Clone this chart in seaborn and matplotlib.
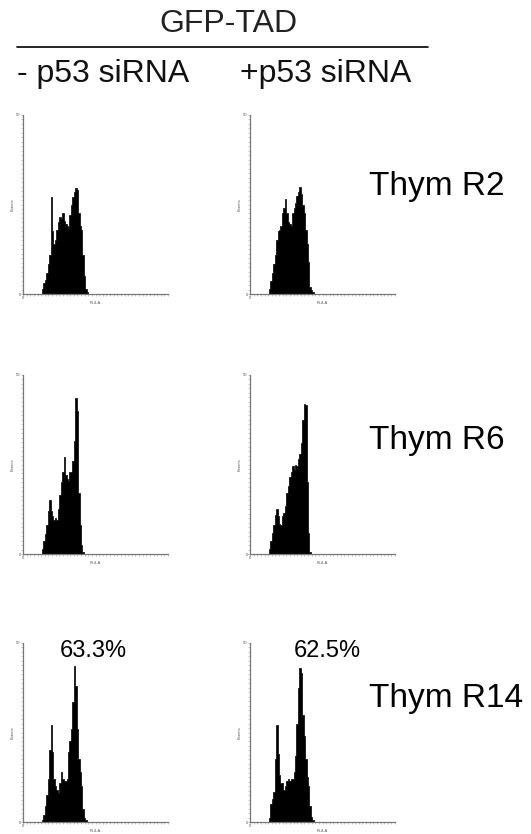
import numpy as np
import pandas as pd
import matplotlib
matplotlib.use("Agg")
import matplotlib.pyplot as plt
import seaborn as sns

sns.set_theme(style="white")
plt.rcParams['font.family'] = ['Liberation Sans', 'DejaVu Sans']

# ---- data: histogram counts (percent of y-axis max) per channel bin, bins 13..44 ----
start_bin = 13
r2_minus = [3, 6, 8, 12, 17, 22, 54, 35, 28, 30, 36, 40, 43, 42, 45, 41, 39, 38, 37,
            44, 50, 54, 57, 59, 58, 45, 38, 36, 22, 10, 3, 1]
r2_plus = [3, 7, 12, 17, 22, 30, 35, 36, 38, 45, 48, 53, 45, 40, 39, 38, 45, 48, 51,
           55, 57, 60, 56, 50, 45, 36, 28, 18, 4, 2, 1]
r6_minus = [3, 7, 11, 16, 24, 30, 24, 21, 19, 20, 19, 25, 33, 40, 46, 54, 44, 42, 41,
            46, 46, 52, 63, 87, 80, 34, 16, 5, 1]
r6_plus = [3, 7, 12, 16, 22, 25, 21, 17, 16, 21, 23, 27, 34, 38, 43, 46, 49, 47, 50,
           49, 53, 56, 62, 75, 84, 83, 40, 12, 1]
r14_minus = [1, 4, 9, 15, 24, 40, 54, 39, 24, 20, 18, 16, 22, 28, 24, 23, 23, 24, 39,
             45, 52, 67, 87, 76, 52, 35, 28, 20, 7, 2, 1]
r14_plus = [2, 10, 13, 17, 35, 54, 38, 26, 22, 22, 18, 20, 23, 24, 23, 24, 24, 28, 37,
            55, 75, 86, 83, 60, 48, 35, 25, 20, 9, 3, 1]

rows = ["Thym R2", "Thym R6", "Thym R14"]
cols = ["- p53 siRNA", "+p53 siRNA"]
header = "GFP-TAD"
percent_labels = {(2, 0): "63.3%", (2, 1): "62.5%"}
series = [[r2_minus, r2_plus], [r6_minus, r6_plus], [r14_minus, r14_plus]]

W, H = 531, 834
fig = plt.figure(figsize=(W / 100, H / 100), dpi=100)

col_x = [23, 250]
ax_w = 145
row_top = [115, 375, 643]
ax_h = 179

def px(x, y):
    return x / W, 1 - y / H

for r in range(3):
    for c in range(2):
        left = col_x[c] / W
        bottom = 1 - (row_top[r] + ax_h) / H
        ax = fig.add_axes([left, bottom, ax_w / W, ax_h / H])
        counts = series[r][c]
        centers = np.arange(start_bin, start_bin + len(counts)) + 0.5
        df = pd.DataFrame({"channel": centers, "n": counts})
        sns.histplot(data=df, x="channel", weights="n", binwidth=1,
                     binrange=(0, 100), element="step", fill=True,
                     color="black", edgecolor="black", alpha=1,
                     linewidth=0.5, ax=ax)
        ax.set_xlim(0, 100)
        ax.set_ylim(0, 100)
        for s in ["top", "right"]:
            ax.spines[s].set_visible(False)
        for s in ["left", "bottom"]:
            ax.spines[s].set_color("#777777")
            ax.spines[s].set_linewidth(0.9)
        ax.set_xticks([0])
        ax.set_yticks([0, 100])
        ax.set_xticklabels(["0"])
        ax.set_yticklabels(["0", "50"])
        ax.set_xticks(np.arange(0, 101, 2.5), minor=True)
        ax.set_yticks(np.arange(0, 101, 2.5), minor=True)
        ax.tick_params(axis="both", which="both", length=1.2, width=0.4,
                       color="#999999", labelsize=3, pad=0.5, labelcolor="#555555",
                       direction="out", bottom=True, left=True)
        ax.set_xlabel("FL4-A", fontsize=3, color="#555555", labelpad=0.5)
        ax.set_ylabel("Events", fontsize=3, color="#555555", labelpad=1)
        ax.patch.set_alpha(0)
        if (r, c) in percent_labels:
            lx = 93 if c == 0 else 327
            ly = 657
            fig.text(*px(lx, ly), percent_labels[(r, c)], fontsize=17,
                     ha="center", va="baseline", color="black")

# header
fig.text(*px(228, 32), header, fontsize=23, ha="center", va="baseline", color="#222222")
fig.add_artist(plt.Line2D([17 / W, 428 / W], [1 - 47 / H, 1 - 47 / H],
                          color="black", linewidth=1.2))
fig.text(*px(17, 82), cols[0], fontsize=23, ha="left", va="baseline", color="#111111")
fig.text(*px(240, 82), cols[1], fontsize=23, ha="left", va="baseline", color="#111111")

# row labels
row_baselines = [195, 449, 707]
for r, lab in enumerate(rows):
    fig.text(*px(369, row_baselines[r]), lab, fontsize=24, ha="left",
             va="baseline", color="black")

fig.savefig("out.png", dpi=100)
